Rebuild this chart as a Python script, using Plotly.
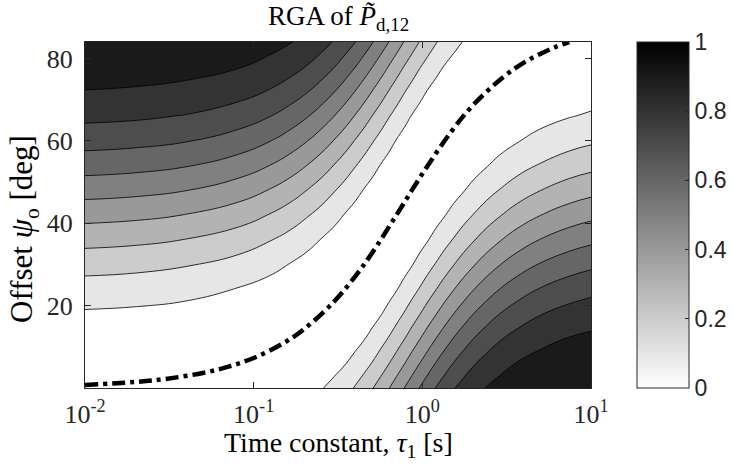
import plotly.graph_objects as go

# ---- data ----
# grid of time constants tau_1 [s] (columns) and offsets psi_o [deg] (rows)
tau = [0.01, 0.02046, 0.04094, 0.08211, 0.12374, 0.16606, 0.20934, 0.25384,
       0.29989, 0.34784, 0.39807, 0.45105, 0.50735, 0.56761, 0.63264, 0.70344,
       0.78125, 0.86767, 0.96477, 1.0753, 1.20302, 1.35316, 1.53329, 1.75472,
       2.03523, 2.40444, 2.91566, 3.67549, 4.93262, 7.43309, 10.0]
psi = [0, 6, 12, 18, 24, 30, 36, 42, 48, 54, 60, 66, 72, 78, 84]

# RGA value of P~_d,12 at each (psi, tau) grid node (one row per psi)
rga = [
    [0.0002, 0.0007, 0.0027, 0.0109, 0.0245, 0.0432, 0.0670, 0.0955, 0.1284, 0.1654, 0.2061, 0.2500, 0.2966, 0.3455, 0.3960, 0.4477, 0.5000, 0.5523, 0.6040, 0.6545, 0.7034, 0.7500, 0.7939, 0.8346, 0.8716, 0.9045, 0.9330, 0.9568, 0.9755, 0.9891, 0.9939],
    [0.0084, 0.0062, 0.0027, 0.0000, 0.0027, 0.0109, 0.0245, 0.0432, 0.0670, 0.0955, 0.1284, 0.1654, 0.2061, 0.2500, 0.2966, 0.3455, 0.3960, 0.4477, 0.5000, 0.5523, 0.6040, 0.6545, 0.7034, 0.7500, 0.7939, 0.8346, 0.8716, 0.9045, 0.9330, 0.9568, 0.9670],
    [0.0381, 0.0332, 0.0245, 0.0109, 0.0027, 0.0000, 0.0027, 0.0109, 0.0245, 0.0432, 0.0670, 0.0955, 0.1284, 0.1654, 0.2061, 0.2500, 0.2966, 0.3455, 0.3960, 0.4477, 0.5000, 0.5523, 0.6040, 0.6545, 0.7034, 0.7500, 0.7939, 0.8346, 0.8716, 0.9045, 0.9196],
    [0.0879, 0.0807, 0.0670, 0.0432, 0.0245, 0.0109, 0.0027, 0.0000, 0.0027, 0.0109, 0.0245, 0.0432, 0.0670, 0.0955, 0.1284, 0.1654, 0.2061, 0.2500, 0.2966, 0.3455, 0.3960, 0.4477, 0.5000, 0.5523, 0.6040, 0.6545, 0.7034, 0.7500, 0.7939, 0.8346, 0.8539],
    [0.1558, 0.1464, 0.1284, 0.0955, 0.0670, 0.0432, 0.0245, 0.0109, 0.0027, 0.0000, 0.0027, 0.0109, 0.0245, 0.0432, 0.0670, 0.0955, 0.1284, 0.1654, 0.2061, 0.2500, 0.2966, 0.3455, 0.3960, 0.4477, 0.5000, 0.5523, 0.6040, 0.6545, 0.7034, 0.7500, 0.7728],
    [0.2388, 0.2277, 0.2061, 0.1654, 0.1284, 0.0955, 0.0670, 0.0432, 0.0245, 0.0109, 0.0027, 0.0000, 0.0027, 0.0109, 0.0245, 0.0432, 0.0670, 0.0955, 0.1284, 0.1654, 0.2061, 0.2500, 0.2966, 0.3455, 0.3960, 0.4477, 0.5000, 0.5523, 0.6040, 0.6545, 0.6797],
    [0.3331, 0.3208, 0.2966, 0.2500, 0.2061, 0.1654, 0.1284, 0.0955, 0.0670, 0.0432, 0.0245, 0.0109, 0.0027, 0.0000, 0.0027, 0.0109, 0.0245, 0.0432, 0.0670, 0.0955, 0.1284, 0.1654, 0.2061, 0.2500, 0.2966, 0.3455, 0.3960, 0.4477, 0.5000, 0.5523, 0.5788],
    [0.4347, 0.4218, 0.3960, 0.3455, 0.2966, 0.2500, 0.2061, 0.1654, 0.1284, 0.0955, 0.0670, 0.0432, 0.0245, 0.0109, 0.0027, 0.0000, 0.0027, 0.0109, 0.0245, 0.0432, 0.0670, 0.0955, 0.1284, 0.1654, 0.2061, 0.2500, 0.2966, 0.3455, 0.3960, 0.4477, 0.4744],
    [0.5392, 0.5262, 0.5000, 0.4477, 0.3960, 0.3455, 0.2966, 0.2500, 0.2061, 0.1654, 0.1284, 0.0955, 0.0670, 0.0432, 0.0245, 0.0109, 0.0027, 0.0000, 0.0027, 0.0109, 0.0245, 0.0432, 0.0670, 0.0955, 0.1284, 0.1654, 0.2061, 0.2500, 0.2966, 0.3455, 0.3711],
    [0.6420, 0.6294, 0.6040, 0.5523, 0.5000, 0.4477, 0.3960, 0.3455, 0.2966, 0.2500, 0.2061, 0.1654, 0.1284, 0.0955, 0.0670, 0.0432, 0.0245, 0.0109, 0.0027, 0.0000, 0.0027, 0.0109, 0.0245, 0.0432, 0.0670, 0.0955, 0.1284, 0.1654, 0.2061, 0.2500, 0.2735],
    [0.7386, 0.7270, 0.7034, 0.6545, 0.6040, 0.5523, 0.5000, 0.4477, 0.3960, 0.3455, 0.2966, 0.2500, 0.2061, 0.1654, 0.1284, 0.0955, 0.0670, 0.0432, 0.0245, 0.0109, 0.0027, 0.0000, 0.0027, 0.0109, 0.0245, 0.0432, 0.0670, 0.0955, 0.1284, 0.1654, 0.1858],
    [0.8247, 0.8147, 0.7939, 0.7500, 0.7034, 0.6545, 0.6040, 0.5523, 0.5000, 0.4477, 0.3960, 0.3455, 0.2966, 0.2500, 0.2061, 0.1654, 0.1284, 0.0955, 0.0670, 0.0432, 0.0245, 0.0109, 0.0027, 0.0000, 0.0027, 0.0109, 0.0245, 0.0432, 0.0670, 0.0955, 0.1118],
    [0.8967, 0.8886, 0.8716, 0.8346, 0.7939, 0.7500, 0.7034, 0.6545, 0.6040, 0.5523, 0.5000, 0.4477, 0.3960, 0.3455, 0.2966, 0.2500, 0.2061, 0.1654, 0.1284, 0.0955, 0.0670, 0.0432, 0.0245, 0.0109, 0.0027, 0.0000, 0.0027, 0.0109, 0.0245, 0.0432, 0.0547],
    [0.9513, 0.9455, 0.9330, 0.9045, 0.8716, 0.8346, 0.7939, 0.7500, 0.7034, 0.6545, 0.6040, 0.5523, 0.5000, 0.4477, 0.3960, 0.3455, 0.2966, 0.2500, 0.2061, 0.1654, 0.1284, 0.0955, 0.0670, 0.0432, 0.0245, 0.0109, 0.0027, 0.0000, 0.0027, 0.0109, 0.0172],
    [0.9862, 0.9830, 0.9755, 0.9568, 0.9330, 0.9045, 0.8716, 0.8346, 0.7939, 0.7500, 0.7034, 0.6545, 0.6040, 0.5523, 0.5000, 0.4477, 0.3960, 0.3455, 0.2966, 0.2500, 0.2061, 0.1654, 0.1284, 0.0955, 0.0670, 0.0432, 0.0245, 0.0109, 0.0027, 0.0000, 0.0007],
]
assert all(len(r) == len(tau) for r in rga) and len(rga) == len(psi)

# zero-RGA curve (dash-dot line)
zero_tau = [0.01, 0.02, 0.03, 0.05, 0.07, 0.1, 0.15, 0.2, 0.3, 0.4, 0.5, 0.7,
            1.0, 1.5, 2.0, 3.0, 4.0, 5.0, 6.0, 7.43]
zero_psi = [0.73, 1.47, 2.2, 3.66, 5.12, 7.29, 10.87, 14.36, 21.0, 27.1, 32.6, 41.9,
            52.0, 62.5, 68.7, 75.4, 79.0, 81.1, 82.6, 84.0]

x_tickvals = [0.01, 0.1, 1, 10]
x_ticktext = ["10<sup>-2</sup>", "10<sup>-1</sup>", "10<sup>0</sup>", "10<sup>1</sup>"]
y_tickvals = [20, 40, 60, 80]
cb_tickvals = [0, 0.2, 0.4, 0.6, 0.8, 1]
cb_ticktext = ["0", "0.2", "0.4", "0.6", "0.8", "1"]

SERIF = "Liberation Serif"
SANS = "Liberation Sans"
AX = "#262626"

# plot area in pixels
L, R, T, B = 85, 591, 42, 388
W, H = 734, 468
PW, PH = R - L, B - T

fig = go.Figure()

fig.add_trace(go.Contour(
    x=tau, y=psi, z=rga,
    autocontour=False,
    contours=dict(start=0.1, end=0.9, size=0.1, coloring="fill", showlines=True),
    colorscale=[[0, "#ffffff"], [1, "#1a1a1a"]],
    line=dict(color="#000000", width=0.8, smoothing=1.3),
    showscale=False,
    hoverinfo="skip",
))

fig.add_trace(go.Scatter(
    x=zero_tau, y=zero_psi, mode="lines",
    line=dict(color="#000000", width=4.5, dash="13px,5px,4px,5px", shape="spline"),
    hoverinfo="skip",
))

# colour bar (continuous white -> black)
fig.add_trace(go.Scatter(
    x=[0.01], y=[0], mode="markers",
    marker=dict(size=1, opacity=0, color=[0], cmin=0, cmax=1,
                colorscale=[[0, "#ffffff"], [1, "#000000"]], showscale=True,
                colorbar=dict(
                    x=(637 - L) / PW, xanchor="left", xpad=0,
                    y=0.5, yanchor="middle", ypad=0,
                    len=1, lenmode="fraction",
                    thickness=52, thicknessmode="pixels",
                    outlinewidth=1, outlinecolor=AX,
                    tickvals=cb_tickvals, ticktext=cb_ticktext,
                    ticks="inside", ticklen=4, tickcolor=AX,
                    tickfont=dict(family=SANS, size=23, color=AX),
                )),
    hoverinfo="skip",
))

axis_common = dict(
    ticks="inside", ticklen=6, tickwidth=1, tickcolor=AX,
    showline=True, linecolor=AX, linewidth=1, mirror="ticks",
    showgrid=False, zeroline=False,
    tickfont=dict(family=SERIF, size=26, color=AX),
)

fig.update_layout(
    width=W, height=H,
    margin=dict(l=L, r=W - R, t=T, b=H - B, autoexpand=False),
    plot_bgcolor="white", paper_bgcolor="white",
    showlegend=False,
    xaxis=dict(type="log", range=[-2, 1], tickvals=x_tickvals, ticktext=x_ticktext,
               ticklabelstandoff=3, **axis_common),
    yaxis=dict(range=[0, 84], tickvals=y_tickvals, ticklabelstandoff=6, **axis_common),
    annotations=[
        dict(text="RGA of <i>P\u0303</i><sub>d,12</sub>", xref="paper", yref="paper",
             x=(338 - L) / PW, y=1 + (T - 18) / PH, xanchor="center", yanchor="middle",
             showarrow=False, font=dict(family=SERIF, size=27, color="#000000")),
        dict(text="Time constant, <i>\u03c4</i><sub>1</sub> [s]", xref="paper", yref="paper",
             x=(338 - L) / PW, y=-(444 - B) / PH, xanchor="center", yanchor="middle",
             showarrow=False, font=dict(family=SERIF, size=28, color="#000000")),
        dict(text="Offset <i>\u03c8</i><sub>o</sub> [deg]", xref="paper", yref="paper",
             x=(24 - L) / PW, y=(B - 229) / PH, xanchor="center", yanchor="middle",
             textangle=-90,
             showarrow=False, font=dict(family=SERIF, size=31, color="#000000")),
    ],
)

fig.write_html("out.html", config={"displayModeBar": False},
               post_script="document.body.style.margin='0';")
